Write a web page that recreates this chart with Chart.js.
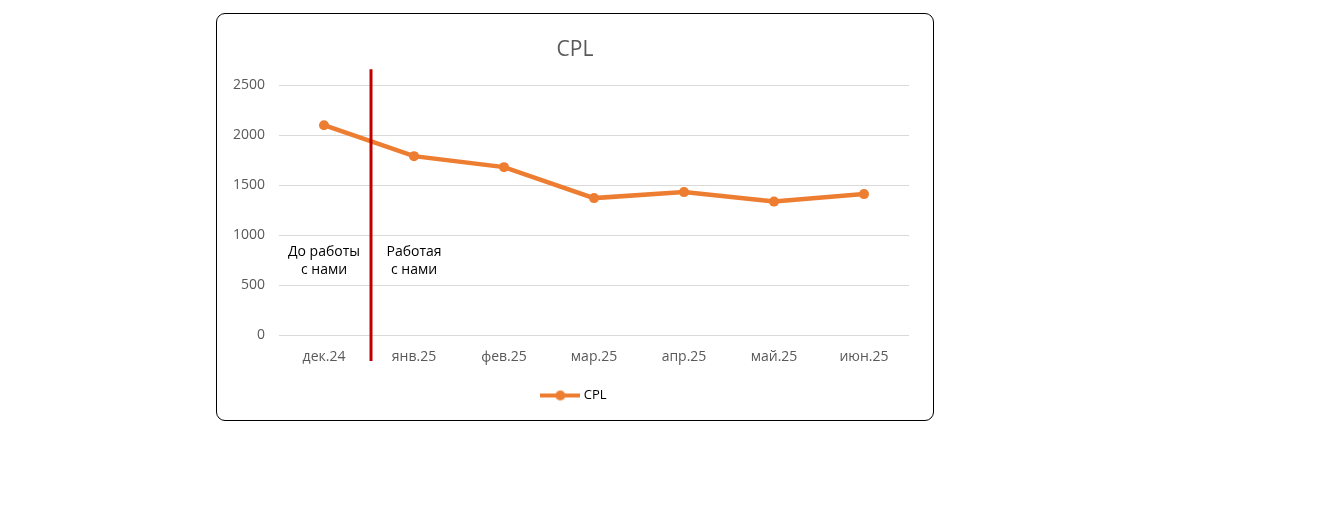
<!DOCTYPE html>
<html>
<head>
<meta charset="utf-8">
<script src="https://cdn.jsdelivr.net/npm/chart.js@4.4.0/dist/chart.umd.min.js"></script>
<style>
    body { margin: 0; background: #fff; }
    #box {
        position: absolute; left: 216px; top: 13px;
        width: 716px; height: 406px;
        border: 1px solid #000; border-radius: 9px; overflow: hidden;
    }
</style>
</head>
<body>
<div id="box"><canvas id="cpl-chart" width="716" height="406"></canvas></div>
<script>
// Categories (months)
const months = ['дек.24', 'янв.25', 'фев.25', 'мар.25', 'апр.25', 'май.25', 'июн.25'];
// CPL values
const cplValues = [2100, 1790, 1680, 1370, 1430, 1335, 1410];
// Notes on both sides of the split line
const beforeNote = ['До работы', 'с нами'];
const afterNote = ['Работая', 'с нами'];

const orange = '#ED7D31';
const gray = '#595959';

// Legend marker: a line with a dot in the middle
const marker = document.createElement('canvas');
marker.width = 40;
marker.height = 12;
const mctx = marker.getContext('2d');
mctx.strokeStyle = orange;
mctx.lineWidth = 4;
mctx.beginPath();
mctx.moveTo(0, 6);
mctx.lineTo(40, 6);
mctx.stroke();
mctx.fillStyle = orange;
mctx.beginPath();
mctx.arc(20, 6, 5, 0, Math.PI * 2);
mctx.fill();

// Red split line between дек.24 and янв.25 plus the two notes
const splitPlugin = {
    id: 'split',
    afterDatasetsDraw(chart) {
        const ctx = chart.ctx;
        const x = chart.scales.x;
        const y = chart.scales.y;
        const splitX = (x.getPixelForValue(0) + x.getPixelForValue(1)) / 2 + 2;
        ctx.save();
        ctx.strokeStyle = '#C00000';
        ctx.lineWidth = 3;
        ctx.beginPath();
        ctx.moveTo(splitX, y.getPixelForValue(2660));
        ctx.lineTo(splitX, y.getPixelForValue(-260));
        ctx.stroke();

        ctx.fillStyle = '#000';
        ctx.font = '14px "Open Sans"';
        ctx.textAlign = 'center';
        ctx.textBaseline = 'middle';
        const top = y.getPixelForValue(1000) + 17;
        beforeNote.forEach((line, i) => {
            ctx.fillText(line, x.getPixelForValue(0), top + i * 18);
        });
        afterNote.forEach((line, i) => {
            ctx.fillText(line, x.getPixelForValue(1), top + i * 18);
        });
        ctx.restore();
    }
};

new Chart(document.querySelector('#cpl-chart'), {
    type: 'line',
    data: {
        labels: months,
        datasets: [{
            label: 'CPL',
            data: cplValues,
            borderColor: orange,
            backgroundColor: orange,
            borderWidth: 4.5,
            pointRadius: 5,
            pointBackgroundColor: orange,
            pointBorderWidth: 0,
            tension: 0
        }]
    },
    options: {
        responsive: false,
        animation: false,
        layout: { padding: { left: 12, right: 12, top: 0, bottom: 8 } },
        plugins: {
            title: {
                display: true,
                text: 'CPL',
                color: gray,
                font: { family: 'Open Sans', size: 21, weight: 'normal' },
                padding: { top: 23, bottom: 23 }
            },
            legend: {
                position: 'bottom',
                labels: {
                    color: gray,
                    font: { family: 'Open Sans', size: 13 },
                    usePointStyle: true,
                    pointStyleWidth: 34,
                    generateLabels: () => [{
                        text: 'CPL',
                        pointStyle: marker,
                        fillStyle: orange,
                        strokeStyle: orange,
                        lineWidth: 0,
                        datasetIndex: 0
                    }]
                }
            },
            tooltip: { enabled: false }
        },
        scales: {
            x: {
                offset: true,
                grid: { display: false, drawTicks: false },
                border: { display: false },
                ticks: { color: gray, font: { family: 'Open Sans', size: 14 }, padding: 14 },
                afterFit: (scale) => { scale.height = 44; }
            },
            y: {
                min: 0,
                max: 2500,
                grid: { color: '#D9D9D9', lineWidth: 1, drawTicks: false },
                border: { display: false },
                ticks: {
                    stepSize: 500,
                    color: gray,
                    font: { family: 'Open Sans', size: 14 },
                    padding: 14,
                    callback: (value) => String(value)
                },
                afterFit: (scale) => { scale.width = 50; }
            },
            // empty right axis, only keeps a margin right of the plot
            yRight: {
                position: 'right',
                min: 0,
                max: 2500,
                grid: { display: false, drawTicks: false },
                border: { display: false },
                ticks: { display: false },
                afterFit: (scale) => { scale.width = 12; }
            }
        }
    },
    plugins: [splitPlugin]
});
</script>
</body>
</html>
